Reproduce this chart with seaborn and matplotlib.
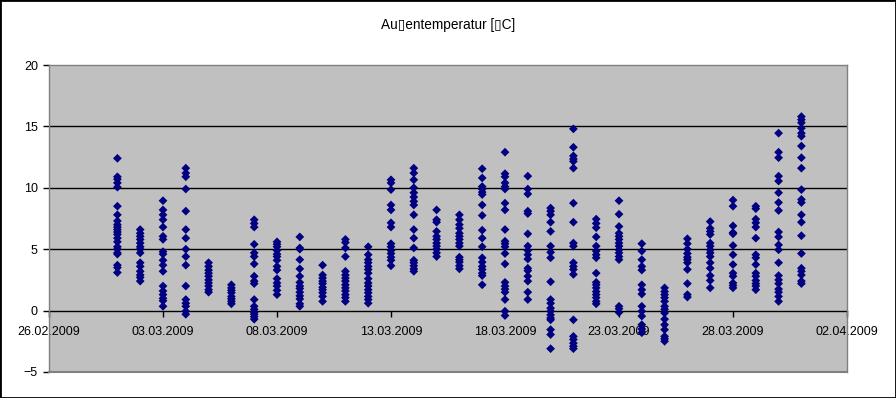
import matplotlib
matplotlib.use("Agg")
import matplotlib.pyplot as plt
import matplotlib.dates as mdates
from matplotlib.patches import Rectangle
import seaborn as sns
import pandas as pd
import numpy as np

title = "Au\u25afentemperatur [\u25afC]"

# daily readings (°C), one list per day in March 2009
mar01 = [12.4, 10.9, 10.7, 10.4, 10.05, 8.5, 7.8, 7.3, 7.0, 6.8, 6.6, 6.4, 6.2, 5.9, 5.6, 5.2, 5.0, 4.7, 4.6, 3.7, 3.5, 3.1]
mar02 = [6.6, 6.3, 6.05, 5.8, 5.5, 5.2, 5.0, 4.7, 3.9, 3.6, 3.2, 2.9, 2.7, 2.4]
mar03 = [8.95, 8.2, 7.8, 7.4, 6.8, 6.05, 5.8, 4.8, 4.6, 4.1, 3.7, 3.2, 2.0, 1.6, 1.3, 1.0, 0.8, 0.35]
mar04 = [11.6, 11.2, 10.9, 9.9, 8.1, 6.6, 5.9, 5.0, 4.4, 3.7, 2.0, 0.9, 0.6, 0.35, -0.05, -0.3]
mar05 = [3.9, 3.6, 3.3, 3.05, 2.8, 2.5, 2.25, 2.0, 1.7, 1.5]
mar06 = [2.1, 1.85, 1.65, 1.45, 1.15, 0.95, 0.75, 0.55]
mar07 = [7.4, 7.1, 6.8, 5.4, 4.7, 4.4, 3.8, 2.8, 2.4, 2.2, 0.9, 0.35, 0.1, -0.15, -0.3, -0.5, -0.7]
mar08 = [5.6, 5.4, 5.2, 4.9, 4.6, 4.4, 4.1, 3.6, 3.3, 2.6, 2.25, 2.0, 1.65, 1.3]
mar09 = [6.0, 5.1, 5.0, 4.15, 3.4, 2.8, 2.3, 2.0, 1.8, 1.5, 1.2, 0.95, 0.55, 0.35]
mar10 = [3.7, 2.9, 2.65, 2.4, 2.2, 1.9, 1.7, 1.45, 1.15, 0.75]
mar11 = [5.8, 5.55, 5.1, 4.4, 3.2, 2.9, 2.65, 2.4, 2.1, 1.85, 1.6, 1.3, 1.05, 0.75]
mar12 = [5.2, 4.55, 4.15, 3.9, 3.6, 3.35, 3.05, 2.6, 2.25, 2.0, 1.7, 1.45, 1.15, 0.9, 0.6]
mar13 = [10.65, 10.4, 9.85, 8.6, 8.2, 7.15, 6.8, 5.45, 5.2, 4.9, 4.65, 4.35, 4.1, 3.65]
mar14 = [11.6, 11.2, 10.65, 10.0, 9.6, 9.25, 8.9, 8.6, 7.8, 6.6, 5.9, 5.1, 4.1, 3.9, 3.65, 3.4, 3.2]
mar15 = [8.2, 7.4, 7.2, 6.45, 6.05, 5.8, 5.5, 5.25, 5.0, 4.7, 4.4]
mar16 = [7.8, 7.4, 7.0, 6.7, 6.3, 6.05, 5.8, 5.5, 5.25, 4.35, 4.15, 3.95, 3.65, 3.4]
mar17 = [11.55, 10.8, 10.1, 9.9, 9.65, 9.45, 8.6, 7.75, 6.55, 5.9, 5.2, 4.3, 3.95, 3.6, 3.35, 3.05, 2.85, 2.1]
mar18 = [12.9, 11.15, 10.9, 10.4, 10.1, 9.9, 8.75, 8.2, 6.6, 5.65, 5.45, 5.2, 4.65, 3.8, 2.3, 2.0, 1.75, 1.5, 0.9, -0.05, -0.4]
mar19 = [10.95, 9.9, 9.5, 8.1, 7.9, 6.25, 5.25, 4.9, 4.55, 4.2, 3.45, 3.25, 2.8, 2.4, 1.5, 0.9]
mar20 = [8.35, 8.1, 7.8, 7.2, 6.45, 5.25, 4.75, 4.3, 2.35, 0.9, 0.6, 0.2, -0.05, -0.35, -0.6, -0.75, -1.55, -1.95, -3.1]
mar21 = [14.8, 13.3, 12.6, 12.35, 12.15, 11.6, 8.75, 7.2, 5.5, 5.25, 3.9, 3.6, 3.35, 2.95, -0.75, -2.1, -2.35, -2.65, -2.9, -3.1]
mar22 = [7.45, 7.1, 6.75, 6.0, 5.25, 4.85, 4.55, 4.3, 3.05, 2.3, 2.1, 1.85, 1.55, 1.3, 1.05, 0.75, 0.55]
mar23 = [8.95, 7.85, 6.85, 6.3, 6.05, 5.8, 5.5, 5.25, 4.95, 4.7, 4.4, 4.15, 0.35, 0.15, -0.15]
mar24 = [5.45, 4.85, 4.15, 3.6, 3.3, 2.1, 1.7, 1.35, 0.35, -0.05, -0.45, -1.15, -1.5, -1.8]
mar25 = [1.85, 1.55, 1.3, 1.05, 0.75, 0.35, 0.1, -0.2, -0.7, -1.15, -1.55, -2.1, -2.3, -2.5]
mar26 = [5.85, 5.45, 5.0, 4.65, 4.35, 4.15, 3.9, 3.35, 2.2, 1.3, 1.1]
mar27 = [7.25, 6.7, 6.45, 6.2, 5.5, 5.25, 4.95, 4.7, 4.4, 3.9, 3.45, 2.85, 2.45, 1.85]
mar28 = [9.0, 8.5, 6.9, 6.35, 6.25, 5.3, 4.55, 3.75, 3.05, 2.8, 2.25, 2.05, 1.85]
mar29 = [8.5, 8.3, 7.45, 7.15, 6.8, 5.9, 4.55, 4.3, 3.75, 3.05, 2.8, 2.45, 2.2, 2.0, 1.7]
mar30 = [14.45, 12.9, 12.45, 10.95, 10.55, 9.6, 8.8, 8.15, 6.4, 6.0, 5.35, 4.95, 3.9, 2.85, 2.5, 2.2, 1.75, 1.5, 1.15, 0.75]
mar31 = [15.8, 15.55, 15.3, 14.85, 14.45, 14.2, 13.4, 12.45, 11.6, 9.85, 9.05, 8.8, 7.8, 7.2, 6.1, 4.65, 3.45, 3.2, 2.9, 2.4, 2.2]

day_lists = [mar01, mar02, mar03, mar04, mar05, mar06, mar07, mar08, mar09, mar10,
             mar11, mar12, mar13, mar14, mar15, mar16, mar17, mar18, mar19, mar20,
             mar21, mar22, mar23, mar24, mar25, mar26, mar27, mar28, mar29, mar30, mar31]
dates = pd.date_range("2009-03-01", "2009-03-31", freq="D")

x_tick_dates = ["2009-02-26", "2009-03-03", "2009-03-08", "2009-03-13", "2009-03-18",
                "2009-03-23", "2009-03-28", "2009-04-02"]
y_ticks = [-5, 0, 5, 10, 15, 20]

rows = []
for d, vals in zip(dates, day_lists):
    for v in vals:
        rows.append((d, v))
df = pd.DataFrame(rows, columns=["date", "temp"])

fig = plt.figure(figsize=(8.96, 3.98), dpi=100)
fig.patch.set_facecolor("white")
ax = fig.add_axes([49/896, 1-372/398, 798/896, 307/398])
ax.set_facecolor("#C0C0C0")

for g in [5, 10, 15]:
    ax.axhline(g, color="black", lw=1.0, zorder=1)

sns.scatterplot(data=df, x="date", y="temp", marker="D", s=20, color="#000080",
                edgecolor="none", linewidth=0, ax=ax, zorder=3, legend=False)

ax.set_xlim(pd.Timestamp("2009-02-26"), pd.Timestamp("2009-04-02"))
ax.set_ylim(-5, 20)
ax.set_yticks(y_ticks)
ax.set_xticks([pd.Timestamp(d) for d in x_tick_dates])
ax.xaxis.set_major_formatter(mdates.DateFormatter("%d.%m.%Y"))
ax.set_xlabel("")
ax.set_ylabel("")

for side in ["top", "left", "right"]:
    ax.spines[side].set_color("#808080")
    ax.spines[side].set_linewidth(1.0)
ax.spines["bottom"].set_position(("data", 0))
ax.spines["bottom"].set_color("black")
ax.spines["bottom"].set_linewidth(1.0)
ax.spines["bottom"].set_zorder(2)
ax.axhline(-5, color="#808080", lw=1.5, clip_on=False, zorder=4)

fam = ["Liberation Sans", "DejaVu Sans"]
ax.tick_params(axis="x", direction="out", length=4, width=1, color="black",
               labelsize=9, pad=7, labelcolor="black")
ax.tick_params(axis="y", direction="out", length=4, width=1, color="black",
               labelsize=9, pad=4)
for lab in ax.get_xticklabels() + ax.get_yticklabels():
    lab.set_fontfamily(fam)

fig.text(0.5, 1-25/398, title, ha="center", va="center", fontsize=9.8, family=fam)

fig.patches.append(Rectangle((0, 0), 1, 1, transform=fig.transFigure, fill=False,
                             edgecolor="black", lw=2, zorder=10))

fig.savefig("out.png", dpi=100, facecolor="white")
